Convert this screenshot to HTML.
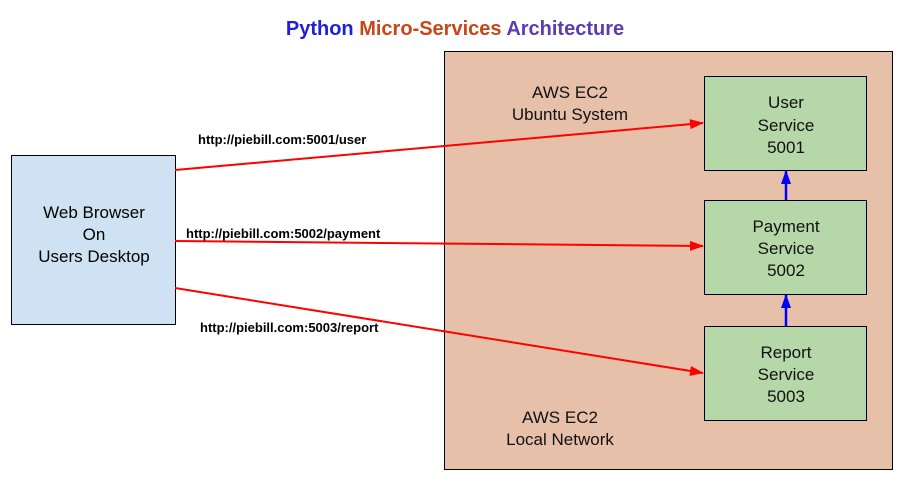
<!DOCTYPE html>
<html><head><style>body{margin:0;background:#fff}</style></head><body>
<svg width="910" height="489" xmlns="http://www.w3.org/2000/svg" font-family="Liberation Sans, Arial, sans-serif">
<defs>
<marker id="r" markerWidth="14" markerHeight="10" refX="13" refY="5" orient="auto" markerUnits="userSpaceOnUse"><path d="M0,0 L14,5 L0,10 z" fill="#f00"/></marker>
<marker id="b" markerWidth="14" markerHeight="10" refX="13" refY="5" orient="auto" markerUnits="userSpaceOnUse"><path d="M0,0 L14,5 L0,10 z" fill="#00f"/></marker>
</defs>
<text x="455" y="35" text-anchor="middle" font-size="20" font-weight="bold"><tspan fill="#1f1fd8">Python </tspan><tspan fill="#c8461a">Micro-Services </tspan><tspan fill="#5b3cb5">Architecture</tspan></text>
<rect x="444.5" y="51.5" width="448" height="418" fill="#e6c0a8" stroke="#000"/>
<rect x="11.5" y="155.5" width="164" height="169" fill="#cfe2f3" stroke="#000"/>
<text text-anchor="middle" font-size="17" fill="#000"><tspan x="94" y="218">Web Browser</tspan><tspan x="94" y="240">On</tspan><tspan x="94" y="262">Users Desktop</tspan></text>
<g fill="#b6d7a8" stroke="#000">
<rect x="704.5" y="76.5" width="162" height="94"/>
<rect x="704.5" y="200.5" width="162" height="94"/>
<rect x="704.5" y="326.5" width="162" height="94"/>
</g>
<g text-anchor="middle" font-size="17" fill="#111">
<text x="786" y="108">User</text><text x="786" y="131">Service</text><text x="786" y="153">5001</text>
<text x="786" y="232">Payment</text><text x="786" y="254">Service</text><text x="786" y="276">5002</text>
<text x="786" y="358">Report</text><text x="786" y="380">Service</text><text x="786" y="402">5003</text>
<text x="570" y="98">AWS EC2</text><text x="570" y="120">Ubuntu System</text>
<text x="560" y="423">AWS EC2</text><text x="560" y="445">Local Network</text>
</g>
<g stroke="#f00" stroke-width="2" fill="none">
<line x1="175" y1="170" x2="703" y2="123" marker-end="url(#r)"/>
<line x1="175" y1="241" x2="703" y2="246" marker-end="url(#r)"/>
<line x1="175" y1="288" x2="703" y2="373" marker-end="url(#r)"/>
</g>
<g stroke="#00f" stroke-width="2.5">
<line x1="786" y1="200" x2="786" y2="171" marker-end="url(#b)"/>
<line x1="786" y1="326" x2="786" y2="295" marker-end="url(#b)"/>
</g>
<g font-size="13" font-weight="bold" fill="#000">
<text x="198" y="144">http://piebill.com:5001/user</text>
<text x="186" y="238">http://piebill.com:5002/payment</text>
<text x="200" y="332">http://piebill.com:5003/report</text>
</g>
</svg>
</body></html>
